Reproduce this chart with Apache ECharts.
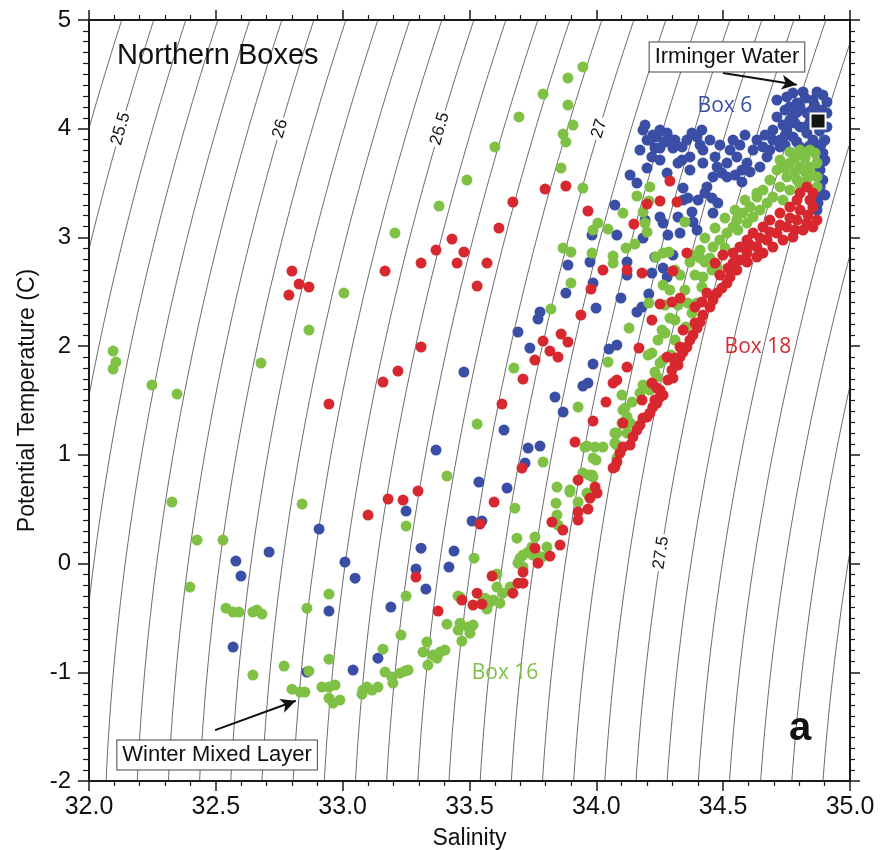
<!DOCTYPE html>
<html><head><meta charset="utf-8">
<script src="https://cdn.jsdelivr.net/npm/echarts/dist/echarts.min.js"></script>
<style>html,body{margin:0;background:#fff}#c{width:882px;height:850px}</style>
</head><body><div id="c"></div>
<script>
// ---- data (Salinity, Potential Temperature) ----
const box6 = [
[34.192,4.034],[34.184,3.988],[34.200,3.896],[34.251,3.988],[34.239,3.924],[34.279,3.960],[34.298,3.896],[34.302,3.822],[34.231,3.822],[34.219,3.740],[34.200,3.638],[34.279,3.592],[34.160,3.500],[34.073,3.298],[34.081,3.022],[34.338,3.832],[34.357,3.896],[34.377,3.960],[34.416,3.988],[34.397,3.924],[34.369,3.740],[34.322,3.684],[34.342,3.454],[34.420,3.804],[34.420,3.684],[34.468,3.740],[34.476,3.648],[34.495,3.592],[34.515,3.684],[34.539,3.896],[34.527,3.804],[34.554,3.740],[34.574,3.620],[34.594,3.684],[34.618,3.804],[34.633,3.896],[34.657,3.832],[34.673,3.740],[34.645,3.648],[34.696,3.896],[34.696,3.988],[34.712,4.108],[34.724,3.832],[34.574,3.510],[34.515,3.556],[34.460,3.556],[34.436,3.464],[34.456,3.362],[34.428,3.408],[34.401,3.344],[34.479,3.316],[34.361,3.362],[34.377,3.234],[34.460,3.224],[34.251,3.188],[34.322,3.188],[34.381,3.142],[34.397,3.068],[34.263,3.132],[34.192,3.160],[33.983,3.022],[34.133,3.574],[34.184,2.994],
[34.751,4.292],[34.775,4.328],[34.815,4.338],[34.870,4.338],[34.893,4.310],[34.909,4.246],[34.909,4.144],[34.909,4.016],[34.901,3.896],[34.893,3.776],[34.882,3.620],[34.882,3.464],[34.874,3.316],[34.870,3.252],[34.763,4.200],[34.775,4.108],[34.803,4.200],[34.830,4.144],[34.803,4.016],[34.775,3.924],[34.751,3.988],[34.724,3.896],[34.830,3.960],[34.803,3.832],[34.854,3.896],[34.854,4.264],[34.842,4.062],[34.783,4.052],[34.744,4.172],[34.862,3.850],[34.823,4.282],[34.712,4.264],[34.736,4.034],
[34.790,4.150],[34.860,4.220],[34.885,4.100],[34.880,3.980],[34.760,4.050],[34.745,3.940],[34.790,3.880],[34.840,3.840],[34.885,3.850],[34.895,3.700],[34.880,3.540],[34.878,3.390],
[34.409,3.850],[34.448,3.896],[34.487,3.850],[34.566,3.850],[34.586,3.942],[34.665,3.942],[34.684,3.804],[34.744,3.850],[34.606,3.602],[34.547,3.574],[34.369,3.620],[34.251,3.712],[34.172,3.804],[34.791,4.236],[34.850,4.172],[34.889,4.172],[34.763,4.080],[34.823,4.016],[34.901,3.712],[34.893,3.528],[34.901,3.390],
[34.223,3.942],[34.211,3.896],[34.310,3.896],[34.271,3.878],[34.251,3.822],[34.338,3.712],[34.121,2.774],[33.975,2.774],[33.888,2.746],[33.987,2.580],[33.880,2.488],[34.282,3.022],[34.330,3.040],[34.342,3.344],[34.231,2.820],[34.219,2.672],[34.263,2.718],[34.279,2.636],[34.121,2.654],[34.302,2.838],[33.999,2.350],[34.097,2.442],[34.207,2.479],[34.160,2.314],[34.180,2.360],[34.050,1.973],[34.081,2.010],[33.987,1.835],[33.947,1.633],[33.967,1.660],[33.869,1.394],[33.778,2.314],[33.770,2.249],[33.691,2.130],[33.738,1.982],[33.837,1.532],[33.478,1.762],[33.636,1.228],[33.731,1.062],[33.778,1.081],[33.719,0.924],[33.368,1.044],[33.537,0.750],[33.648,0.694],[33.250,0.483],[33.510,0.391],[33.549,0.391],[33.309,0.142],[33.439,0.115],[33.289,-0.051],[33.419,-0.032],[33.328,-0.235],[33.049,-0.134],[33.190,-0.400],[32.907,0.317],[32.710,0.106],[32.579,0.023],[32.599,-0.115],[33.009,0.014],[32.568,-0.768],[32.859,-0.998],[32.946,-0.437],[33.041,-0.980],[33.139,-0.870]
];
const box16 = [
[32.095,1.955],[32.106,1.854],[32.095,1.789],[32.248,1.642],[32.347,1.559],[32.678,1.844],[32.867,2.148],[33.005,2.488],[32.327,0.566],[32.426,0.216],[32.528,0.216],[32.398,-0.216],[32.540,-0.410],[32.568,-0.446],[32.591,-0.446],[32.646,-0.446],[32.662,-0.428],[32.682,-0.465],[32.859,-0.410],[32.946,-0.281],[32.946,-0.879],[32.769,-0.943],[32.646,-1.026],[32.867,-0.989],[32.800,-1.155],[32.832,-1.182],[32.851,-1.182],[32.918,-1.136],[32.946,-1.136],[32.970,-1.118],[32.946,-1.238],[32.962,-1.284],[32.989,-1.256],[33.080,-1.164],[33.096,-1.136],[33.076,-1.201],[33.116,-1.164],[33.139,-1.136],[33.159,-0.787],[33.167,-0.998],[33.194,-1.044],[33.198,-1.100],[33.226,-1.008],[33.246,-0.989],[33.258,-0.980],[33.230,-0.658],[33.250,-0.299],[33.332,-0.722],[33.317,-0.814],[33.356,-0.842],[33.372,-0.870],[33.384,-0.814],[33.403,-0.796],[33.336,-0.934],[33.411,-0.557],[33.455,-0.299],[33.463,-0.548],[33.470,-0.713],[33.455,-0.612],[33.494,-0.584],[33.514,-0.566],[33.502,-0.640],[32.840,0.547],[33.250,0.345],[33.411,0.805],[33.679,0.510],[33.687,0.234],[33.758,0.244],[33.711,0.078],[33.731,0.106],[33.699,0.050],[33.750,0.078],[33.518,0.050],[33.711,-0.032],[33.608,-0.097],[33.608,-0.216],[33.660,-0.216],[33.632,-0.272],[33.620,-0.364],[33.593,-0.336],[33.561,-0.318],[33.569,-0.419],[33.463,-0.308],
[33.947,4.568],[33.888,4.466],[33.790,4.319],[33.888,4.218],[33.908,4.034],[33.869,3.951],[33.880,3.878],[33.861,3.638],[33.695,4.108],[33.600,3.832],[33.490,3.528],[33.380,3.289],[33.206,3.040],[33.947,3.454],[33.869,2.902],[33.900,2.866],[33.983,2.856],[33.900,2.580],[33.821,2.341],[33.987,3.068],[34.006,3.132],[34.211,3.464],[34.160,3.381],[34.207,3.335],[34.184,3.234],[34.105,3.224],[34.046,3.077],[34.192,3.132],[34.200,3.050],[34.066,2.829],[34.066,2.764],[34.117,2.902],[34.152,2.939],[34.235,2.820],[34.263,2.856],[34.286,2.866],[34.263,2.562],[34.310,2.700],[34.349,3.142],[33.675,1.798],[33.530,1.283],[33.790,0.934],[33.928,1.440],[34.046,1.854],[34.129,2.166],[34.219,1.936],[34.271,2.120],[34.310,2.056],[34.294,1.918],[34.263,1.872],[34.231,1.762],[34.184,1.642],[34.141,1.486],[34.101,1.550],[34.113,1.430],[34.125,1.292],[34.081,1.200],[34.121,1.200],[33.963,1.081],[33.995,1.072],[34.026,1.072],[34.081,1.090],[33.987,0.970],[33.971,0.814],[33.947,0.832],[33.987,0.796],[33.845,0.704],[33.896,0.658],[33.928,0.566],[33.963,0.648],[33.841,0.556],[33.845,0.446],[33.849,0.354],[33.746,0.152],[33.805,0.152],[33.766,0.078],[33.786,0.060],[33.691,0.004],[33.660,-0.244],[33.553,-0.336],[33.581,-0.354],[34.207,2.396],[34.353,2.176],[34.361,2.396],[34.397,2.396],[34.377,2.304],[34.416,2.544],[34.420,2.636],[34.456,2.700],[34.476,2.728],[34.377,2.838],[34.409,2.810],[34.251,1.844],[34.239,1.716],[34.211,1.596],[34.172,1.568],[34.105,1.412],[34.121,1.348],[34.101,1.292],[34.133,1.292],[34.073,1.200],[33.955,1.072],[33.999,0.952],[34.073,1.108],[34.081,0.970],[33.983,0.814],[33.896,0.676],
[34.763,3.786],[34.803,3.804],[34.842,3.804],[34.862,3.776],[34.870,3.684],[34.870,3.556],[34.870,3.464],[34.724,3.712],[34.763,3.684],[34.803,3.648],[34.842,3.648],[34.712,3.620],[34.751,3.556],[34.791,3.528],[34.830,3.528],[34.684,3.528],[34.724,3.464],[34.763,3.436],[34.657,3.436],[34.696,3.372],[34.736,3.344],[34.633,3.372],[34.673,3.316],[34.606,3.280],[34.645,3.252],[34.578,3.224],[34.618,3.188],[34.554,3.160],[34.594,3.132],[34.539,3.096],[34.515,3.040],[34.487,2.976],[34.460,2.912],[34.633,3.408],[34.823,3.730],[34.783,3.602],[34.850,3.574],[34.428,2.774],[34.389,2.654],[34.349,2.516],[34.322,2.378],[34.290,2.258],[34.259,2.148],
[34.783,3.730],[34.744,3.638],[34.823,3.602],[34.803,3.482],[34.586,3.344],[34.547,3.252],[34.507,3.178],[34.558,3.068],[34.468,3.086],[34.428,2.994],[34.507,2.902],[34.409,2.884],[34.369,2.774],[34.448,2.810],[34.330,2.654],[34.290,2.516],[34.271,2.378],[34.310,2.240],[34.243,2.056],[34.204,1.918]
];
const box18 = [
[32.800,2.691],[32.828,2.571],[32.867,2.544],[32.788,2.470],[33.167,2.691],[33.309,2.764],[33.368,2.884],[33.431,2.985],[33.478,2.866],[33.451,2.764],[33.569,2.764],[33.530,2.553],[33.616,3.086],[33.671,3.326],[33.798,3.445],[33.880,3.473],[33.967,3.243],[33.979,2.525],[33.939,2.286],[33.309,1.992],[34.290,3.519],[34.200,3.307],[34.251,3.335],[34.318,3.326],[34.148,3.123],[34.026,2.700],[34.121,2.700],[34.180,2.672],[34.302,2.691],[33.218,1.771],[33.159,1.670],[33.861,2.111],[33.888,2.038],[33.790,2.047],[33.817,1.955],[33.849,1.900],[33.758,1.872],[33.711,1.697],[33.628,1.467],[33.916,1.118],[33.987,1.311],[34.038,1.486],[34.219,2.240],[34.168,1.982],[34.251,2.387],[34.298,2.406],[34.121,1.808],[34.081,1.688],[34.066,1.660],[34.180,1.504],[34.251,1.596],[34.263,1.550],[34.223,1.440],[34.211,1.384],[34.200,1.348],[34.184,1.338],[34.105,1.292],[34.133,1.090],[34.105,1.072],[34.093,1.016],[34.081,0.934],[34.066,0.878],[33.707,0.878],[33.928,0.768],[33.995,0.704],[34.003,0.648],[33.975,0.602],[33.967,0.501],[33.928,0.474],[33.928,0.400],[33.825,0.382],[33.868,0.308],[33.857,0.170],[33.817,0.069],[33.758,0.142],[33.770,0.004],[33.711,-0.078],[33.691,-0.180],[33.711,-0.180],[33.589,-0.115],[33.597,0.566],[33.541,0.363],[33.297,0.667],[33.238,0.584],[33.179,0.593],[33.100,0.446],[33.289,-0.124],[33.530,-0.272],[33.671,-0.272],[33.470,-0.336],[33.514,-0.382],[33.549,-0.373],[33.376,-0.437],[32.946,1.467],
[34.499,2.838],[34.468,2.764],[34.539,2.764],[34.527,2.636],[34.515,2.580],[34.495,2.534],[34.476,2.488],[34.460,2.424],[34.448,2.360],[34.420,2.286],[34.409,2.222],[34.397,2.166],[34.381,2.102],[34.369,2.056],[34.357,1.992],[34.342,1.946],[34.330,1.900],[34.310,1.844],[34.298,1.780],[34.302,1.706],[34.279,1.900],[34.436,2.488],[34.416,2.406],[34.389,2.212],[34.342,2.148],[34.330,1.992],[34.310,1.890],[34.322,1.826],[34.251,1.532],[34.239,1.614],[34.239,1.476],[34.073,0.888],[34.219,1.660],[34.330,2.442],[34.389,2.360],[34.357,2.857],
[34.830,3.464],[34.803,3.408],[34.854,3.408],[34.854,3.280],[34.870,3.160],[34.854,3.096],[34.830,3.132],[34.791,3.344],[34.763,3.280],[34.724,3.224],[34.684,3.160],[34.657,3.096],[34.618,3.040],[34.594,2.976],[34.566,2.912],[34.539,2.856],[34.791,3.160],[34.751,3.096],[34.712,3.040],[34.673,2.976],[34.633,2.912],[34.594,2.856],[34.815,3.068],[34.775,3.004],[34.736,2.976],[34.696,2.912],[34.657,2.856],[34.633,2.820],[34.566,2.792],[34.519,2.718],[34.487,2.654],
[34.842,3.344],[34.803,3.252],[34.834,3.206],[34.763,3.178],[34.724,3.114],[34.783,3.068],[34.684,3.050],[34.645,2.994],[34.606,2.930],[34.594,2.774],[34.554,2.700],[34.282,1.688],[34.231,1.504],[34.160,1.228],[34.144,1.164],[34.172,1.274]
];
const irmingerWater = [[34.874, 4.07]];
const isopycnalLevels = [25.1,25.2,25.3,25.4,25.5,25.6,25.7,25.8,25.9,26.0,26.1,26.2,26.3,26.4,26.5,26.6,26.7,26.8,26.9,27.0,27.1,27.2,27.3,27.4,27.5,27.6,27.7,27.8,27.9,28.0,28.1,28.2,28.3];
const labelledLevels = ['25.5','26','26.5','27','27.5'];
const labelTemps = [4.0, 4.0, 4.0, 4.0, 0.1];
const annotationTexts = ['Northern Boxes','Irminger Water','Box 6','Box 18','Box 16','Winter Mixed Layer','a'];
const irmingerArrow = [[34.499,4.512],[34.790,4.405]];
const winterArrow = [[32.497,-1.532],[32.815,-1.262]];

// ---- UNESCO EOS-80 at p=0: sigma-theta ----
function sigma(S,T){
  const rw = 999.842594 + 6.793952e-2*T - 9.095290e-3*T*T + 1.001685e-4*T**3 - 1.120083e-6*T**4 + 6.536332e-9*T**5;
  const A = 8.24493e-1 - 4.0899e-3*T + 7.6438e-5*T*T - 8.2467e-7*T**3 + 5.3875e-9*T**4;
  const B = -5.72466e-3 + 1.0227e-4*T - 1.6546e-6*T*T;
  return rw + A*S + B*Math.pow(S,1.5) + 4.8314e-4*S*S - 1000;
}
function solveS(sig,T){
  let S = 34;
  for(let i=0;i<30;i++){
    const f = sigma(S,T)-sig, d = (sigma(S+1e-4,T)-sigma(S-1e-4,T))/2e-4;
    S -= f/d;
  }
  return S;
}

const GL=89, GT=20, GW=761, GH=761;
const pxS = GW/3, pxT = GH/7;
const FONT = 'Liberation Sans, Arial, Helvetica, sans-serif';
const BOXFONT = 'Open Sans, Noto Sans, sans-serif';

const series = [];
isopycnalLevels.forEach(lv=>{
  const pts=[];
  for(let k=0;k<=150;k++){ const T=-2.5+k*0.05; pts.push([solveS(lv,T),T]); }
  series.push({type:'line',data:pts,showSymbol:false,silent:true,clip:true,z:1,
    lineStyle:{color:'#2a2a2a',width:0.7},animation:false});
});
const contourLabels = labelledLevels.map((t,i)=>{
  const lv = parseFloat(t), T = labelTemps[i];
  const s1 = solveS(lv,T-0.05), s2 = solveS(lv,T+0.05);
  const ang = Math.atan2(0.1*pxT,(s2-s1)*pxS)*180/Math.PI;
  return {value:[solveS(lv,T),T], label:{formatter:t, rotate:ang}};
});
series.push({type:'scatter',data:contourLabels,symbolSize:0,silent:true,z:2,animation:false,
  itemStyle:{opacity:1},
  label:{show:true,position:'inside',color:'#111',fontSize:17,fontFamily:FONT,backgroundColor:'#fff',padding:[1,2]}});

const dot = (name,data,color,z)=>({type:'scatter',name,data,symbolSize:11,z,animation:false,
  itemStyle:{color,opacity:1}});
series.push(dot('Box 6',box6,'#3a4ea6',3));
series.push(dot('Box 16',box16,'#7fc144',4));
series.push(dot('Box 18',box18,'#d7282f',5));
series.push({type:'scatter',name:'Irminger Water',data:irmingerWater,symbol:'rect',symbolSize:15,z:6,animation:false,
  itemStyle:{color:'#151515',borderColor:'#fff',borderWidth:2,opacity:1}});

function arrowSeries(pts){
  const dx=(pts[1][0]-pts[0][0])*pxS, dy=(pts[1][1]-pts[0][1])*pxT;
  const rot = Math.atan2(dy,dx)*180/Math.PI - 90;
  return {type:'line',silent:true,z:7,animation:false,clip:false,
    lineStyle:{color:'#111',width:2},itemStyle:{color:'#111',opacity:1},
    data:[{value:pts[0],symbol:'none'},{value:pts[1],symbol:'arrow',symbolSize:[11,15],symbolRotate:rot}]};
}
series.push(arrowSeries(irmingerArrow));
series.push(arrowSeries(winterArrow));

const annPos = [[32.508,4.67],[34.515,4.660],[34.507,4.209],[34.637,1.992],[33.640,-1.008],[32.505,-1.76],[34.803,-1.52]];
const annStyle = [
  {fontSize:29,fontFamily:FONT,color:'#111'},
  {fontSize:22,fontFamily:FONT,color:'#111',backgroundColor:'#fff',borderColor:'#444',borderWidth:1,padding:[4,5,3,5]},
  {fontSize:21,fontFamily:BOXFONT,color:'#3a4ea6'},
  {fontSize:21,fontFamily:BOXFONT,color:'#d7282f'},
  {fontSize:21,fontFamily:BOXFONT,color:'#7fc144'},
  {fontSize:22,fontFamily:FONT,color:'#111',backgroundColor:'#fff',borderColor:'#444',borderWidth:1,padding:[4,5,3,5]},
  {fontSize:40,fontFamily:FONT,color:'#111',fontWeight:'bold'}
];
series.push({type:'scatter',data:annotationTexts.map((t,i)=>({value:annPos[i],label:Object.assign({formatter:t},annStyle[i])})),
  symbolSize:0,silent:true,z:8,animation:false,itemStyle:{opacity:1},
  label:{show:true,position:'inside'}});

const axisCommon = {type:'value',axisLine:{show:true,onZero:false,lineStyle:{color:'#1a1a1a',width:2}},
  splitLine:{show:false}};
const option = {
  backgroundColor:'#fff',
  animation:false,
  grid:{left:GL,top:GT,width:GW,height:GH,containLabel:false,outerBoundsMode:'none'},
  xAxis:[
    Object.assign({},axisCommon,{min:32,max:35,interval:0.5,position:'bottom',
      axisTick:{show:true,inside:false,length:10,lineStyle:{color:'#1a1a1a',width:1.5}},
      minorTick:{show:true,splitNumber:5,length:5,lineStyle:{color:'#1a1a1a',width:1.2}},
      axisLabel:{fontSize:25,fontFamily:FONT,color:'#111',margin:14,formatter:v=>v.toFixed(1)},
      name:'Salinity',nameLocation:'middle',nameGap:46,nameTextStyle:{fontSize:23,fontFamily:FONT,color:'#111'}}),
    Object.assign({},axisCommon,{min:32,max:35,interval:0.5,position:'top',
      axisTick:{show:true,inside:false,length:10,lineStyle:{color:'#1a1a1a',width:1.5}},
      minorTick:{show:true,splitNumber:5,length:5,lineStyle:{color:'#1a1a1a',width:1.2}},
      axisLabel:{show:false}})
  ],
  yAxis:[
    Object.assign({},axisCommon,{min:-2,max:5,interval:1,position:'left',
      axisTick:{show:true,inside:false,length:11,lineStyle:{color:'#1a1a1a',width:1.5}},
      minorTick:{show:true,splitNumber:10,length:6,lineStyle:{color:'#1a1a1a',width:1.2}},
      axisLabel:{fontSize:24,fontFamily:FONT,color:'#111',margin:18},
      name:'Potential Temperature (C)',nameLocation:'middle',nameGap:50,nameTextStyle:{fontSize:23,fontFamily:FONT,color:'#111'}}),
    Object.assign({},axisCommon,{min:-2,max:5,interval:1,position:'right',
      axisTick:{show:true,inside:false,length:10,lineStyle:{color:'#1a1a1a',width:1.5}},
      minorTick:{show:true,splitNumber:10,length:5,lineStyle:{color:'#1a1a1a',width:1.2}},
      axisLabel:{show:false}})
  ],
  series
};
const chart = echarts.init(document.getElementById('c'),null,{renderer:'canvas'});
chart.setOption(option);
</script></body></html>
